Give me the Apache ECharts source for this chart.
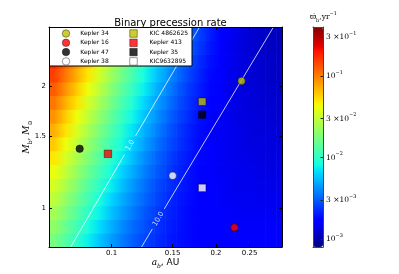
<!DOCTYPE html>
<html><head><meta charset="utf-8">
<script src="https://cdn.jsdelivr.net/npm/echarts@6/dist/echarts.min.js"></script>
<style>html,body{margin:0;padding:0;background:#fff}#c{width:399px;height:274px}</style>
</head><body><div id="c"></div>
<script>
// ---- data ----
// heatmap cell edges (binary semi-major axis a_b in AU, binary mass M_b in Msun)
const aEdges = [0.0660,0.0710,0.0765,0.0823,0.0886,0.0954,0.1027,0.1105,0.1190,0.1281,0.1379,0.1484,0.1598,0.1720,0.1851,0.1993,0.2145,0.2309,0.2486,0.2676,0.2880,0.3100];
const mEdges = [0.800,0.865,0.936,1.012,1.094,1.183,1.280,1.384,1.497,1.619,1.751,1.893,2.047,2.214,2.394,2.589,2.800];
// log10 of precession rate (yr^-1), rows from bottom (low M) to top
const log10Rate = [
[-1.76,-1.88,-2.00,-2.12,-2.23,-2.33,-2.42,-2.50,-2.57,-2.63,-2.68,-2.72,-2.74,-2.77,-2.78,-2.79,-2.80,-2.80,-2.80,-2.80,-2.80],
[-1.68,-1.81,-1.94,-2.06,-2.17,-2.28,-2.38,-2.47,-2.54,-2.61,-2.67,-2.71,-2.74,-2.77,-2.79,-2.80,-2.81,-2.81,-2.81,-2.81,-2.81],
[-1.61,-1.74,-1.87,-2.00,-2.11,-2.23,-2.33,-2.43,-2.52,-2.59,-2.65,-2.70,-2.74,-2.77,-2.79,-2.80,-2.81,-2.82,-2.82,-2.82,-2.82],
[-1.53,-1.67,-1.80,-1.93,-2.06,-2.18,-2.29,-2.39,-2.48,-2.56,-2.63,-2.69,-2.73,-2.77,-2.79,-2.81,-2.82,-2.83,-2.83,-2.84,-2.84],
[-1.46,-1.59,-1.73,-1.87,-1.99,-2.12,-2.24,-2.35,-2.45,-2.54,-2.61,-2.67,-2.72,-2.76,-2.79,-2.81,-2.83,-2.84,-2.84,-2.85,-2.85],
[-1.38,-1.52,-1.66,-1.80,-1.93,-2.06,-2.19,-2.30,-2.41,-2.50,-2.58,-2.66,-2.71,-2.76,-2.79,-2.82,-2.83,-2.84,-2.85,-2.86,-2.86],
[-1.30,-1.45,-1.59,-1.73,-1.87,-2.00,-2.13,-2.25,-2.37,-2.47,-2.56,-2.64,-2.70,-2.75,-2.79,-2.82,-2.84,-2.85,-2.86,-2.87,-2.87],
[-1.22,-1.37,-1.52,-1.66,-1.80,-1.94,-2.07,-2.20,-2.32,-2.43,-2.53,-2.61,-2.68,-2.74,-2.78,-2.82,-2.84,-2.86,-2.87,-2.87,-2.88],
[-1.14,-1.29,-1.44,-1.59,-1.74,-1.88,-2.02,-2.15,-2.28,-2.39,-2.50,-2.59,-2.67,-2.73,-2.78,-2.82,-2.84,-2.86,-2.88,-2.88,-2.89],
[-1.06,-1.22,-1.37,-1.52,-1.67,-1.82,-1.96,-2.10,-2.23,-2.35,-2.46,-2.56,-2.64,-2.72,-2.77,-2.82,-2.85,-2.87,-2.88,-2.89,-2.90],
[-0.98,-1.14,-1.29,-1.45,-1.60,-1.75,-1.90,-2.04,-2.18,-2.31,-2.42,-2.53,-2.62,-2.70,-2.76,-2.81,-2.85,-2.87,-2.89,-2.90,-2.91],
[-0.90,-1.06,-1.22,-1.37,-1.53,-1.69,-1.84,-1.98,-2.12,-2.26,-2.38,-2.50,-2.60,-2.68,-2.75,-2.81,-2.85,-2.87,-2.89,-2.91,-2.92],
[-0.82,-0.98,-1.14,-1.30,-1.46,-1.62,-1.77,-1.92,-2.07,-2.21,-2.34,-2.46,-2.57,-2.66,-2.74,-2.80,-2.84,-2.88,-2.90,-2.92,-2.93],
[-0.74,-0.91,-1.07,-1.23,-1.39,-1.55,-1.71,-1.87,-2.02,-2.16,-2.30,-2.42,-2.54,-2.64,-2.72,-2.79,-2.84,-2.88,-2.90,-2.92,-2.93],
[-0.66,-0.83,-0.99,-1.16,-1.32,-1.49,-1.65,-1.81,-1.96,-2.11,-2.25,-2.38,-2.50,-2.61,-2.70,-2.78,-2.84,-2.88,-2.91,-2.93,-2.94],
[-0.58,-0.75,-0.92,-1.09,-1.26,-1.42,-1.58,-1.74,-1.90,-2.06,-2.20,-2.34,-2.47,-2.58,-2.68,-2.76,-2.83,-2.88,-2.91,-2.94,-2.95]
];
// contour lines (a_b, M_b) with gaps for their labels
const contour1Lower  = [[0.0762,0.800],[0.1089,1.353]];
const contour1Upper  = [[0.1173,1.507],[0.1793,2.800]];
const contour10Lower = [[0.1220,0.800],[0.1311,0.887]];
const contour10Upper = [[0.1419,0.994],[0.2930,2.800]];
const contourLabelPos = [[0.1131,1.428],[0.1364,0.939]];
const contourLevels = ['1.0','10.0'];
// systems
const systemNames = ['Kepler 34','Kepler 16','Kepler 47','Kepler 38','KIC 4862625','Kepler 413','Kepler 35','KIC9632895'];
const systemA = [0.237,0.226,0.0809,0.150,0.1825,0.0976,0.1825,0.1825];
const systemM = [2.06,0.894,1.40,1.20,1.83,1.36,1.70,1.12];
// axes
const xRange = [0.066,0.31];
const yRange = [0.8,2.8];
const cbRange = [8e-4,0.4];
const xTickValues = [0.1,0.15,0.2,0.25];
const xTickLabels = ['0.1','0.15','0.2','0.25'];
const yTickValues = [1,1.5,2];
const yTickLabels = ['1','1.5','2'];
const cbTickValues = [0.001,0.003,0.01,0.03,0.1,0.3];
const cbTickLabels = ['{b|10}{p|−3}','{b|3 ×10}{p|−3}','{b|10}{p|−2}','{b|3 ×10}{p|−2}','{b|10}{p|−1}','{b|3 ×10}{p|−1}'];

// ---- styles ----
const sysColors = ['#bfbf00','#ff0000','#000000','#ffffff','#bfbf00','#ff0000','#000000','#ffffff'];
const sysSymbols = ['circle','circle','circle','circle','rect','rect','rect','rect'];

const L = Math.log10;
function jet(t){
  const cl = v => Math.max(0, Math.min(1, v));
  t = cl(t);
  let r, g, b;
  if (t < 0.35) r = 0; else if (t < 0.66) r = (t-0.35)/0.31; else if (t < 0.89) r = 1; else r = 1 - 0.5*(t-0.89)/0.11;
  if (t < 0.125) g = 0; else if (t < 0.375) g = (t-0.125)/0.25; else if (t < 0.64) g = 1; else if (t < 0.91) g = 1-(t-0.64)/0.27; else g = 0;
  if (t < 0.11) b = 0.5 + 0.5*t/0.11; else if (t < 0.34) b = 1; else if (t < 0.65) b = 1-(t-0.34)/0.31; else b = 0;
  const h = v => Math.round(cl(v)*255);
  return 'rgb(' + h(r) + ',' + h(g) + ',' + h(b) + ')';
}
const jetColors = [];
for (let k = 0; k <= 64; k++) jetColors.push(jet(k/64));
const cbMin = L(cbRange[0]), cbMax = L(cbRange[1]);
const colorOf = v => jet((v - cbMin) / (cbMax - cbMin));

const cells = [];
for (let j = 0; j < log10Rate.length; j++) {
  for (let i = 0; i < log10Rate[j].length; i++) {
    cells.push([(L(aEdges[i])+L(aEdges[i+1]))/2, (L(mEdges[j])+L(mEdges[j+1]))/2, log10Rate[j][i], i, j]);
  }
}
const toLog = arr => arr.map(p => [L(p[0]), L(p[1])]);
function fmt(values, labels){
  return function(v){
    for (let k = 0; k < values.length; k++) if (Math.abs(L(values[k]) - v) < 1e-6) return labels[k];
    return '';
  };
}
const sans = 'DejaVu Sans', serif = 'DejaVu Serif';

const series = [];
series.push({
  type: 'custom', xAxisIndex: 0, yAxisIndex: 0, clip: true, z: 1, silent: true,
  data: cells,
  renderItem: function(params, api){
    const i = api.value(3), j = api.value(4);
    const row = log10Rate[j], n = row.length;
    const cx = k => (L(aEdges[k]) + L(aEdges[k+1])) / 2;
    const yTop = api.coord([cx(i), L(mEdges[j+1])])[1] - 0.4;
    const yBot = api.coord([cx(i), L(mEdges[j])])[1] + 0.4;
    const px = v => api.coord([v, L(mEdges[j])])[0];
    const kids = [];
    const c0 = colorOf(row[i]);
    if (i === 0) {
      const x0 = px(L(aEdges[0])), x1 = px(cx(0));
      kids.push({type: 'rect', shape: {x: x0, y: yTop, width: x1 - x0 + 0.5, height: yBot - yTop}, style: {fill: c0}});
    }
    if (i < n - 1) {
      const x0 = px(cx(i)), x1 = px(cx(i+1));
      kids.push({type: 'rect', shape: {x: x0 - 0.3, y: yTop, width: x1 - x0 + 0.6, height: yBot - yTop},
        style: {fill: {type: 'linear', x: 0, y: 0, x2: 1, y2: 0,
          colorStops: [{offset: 0, color: c0}, {offset: 1, color: colorOf(row[i+1])}]}}});
    } else {
      const x0 = px(cx(i)), x1 = px(L(aEdges[n]));
      kids.push({type: 'rect', shape: {x: x0 - 0.3, y: yTop, width: x1 - x0 + 0.3, height: yBot - yTop}, style: {fill: c0}});
    }
    return {type: 'group', children: kids};
  }
});
[contour1Lower, contour1Upper, contour10Lower, contour10Upper].forEach(seg => {
  series.push({type: 'line', xAxisIndex: 0, yAxisIndex: 0, data: toLog(seg), symbol: 'none', silent: true, z: 3,
    lineStyle: {color: '#ffffff', width: 0.9, opacity: 0.85}});
});
series.push({type: 'scatter', xAxisIndex: 0, yAxisIndex: 0, silent: true, z: 3, symbolSize: 1,
  itemStyle: {color: 'transparent'},
  data: contourLabelPos.map((p, k) => ({value: [L(p[0]), L(p[1]), contourLevels[k]], label: {rotate: k === 0 ? 60 : 59}})),
  label: {show: true, position: 'inside', formatter: p => p.data.value[2], color: '#ffffff', fontSize: 7, fontFamily: sans}
});
systemNames.forEach((n, k) => {
  series.push({type: 'scatter', name: n, xAxisIndex: 0, yAxisIndex: 0, z: 4,
    symbol: sysSymbols[k], symbolSize: 7.5,
    itemStyle: {color: sysColors[k], borderColor: '#000', borderWidth: 0.5},
    data: [[L(systemA[k]), L(systemM[k])]]});
});

const frameAxis = {z: 10, splitLine: {show: false}, nameMoveOverlap: false,
  axisLine: {show: true, onZero: false, lineStyle: {color: '#000', width: 1}}};
const legendItem = k => ({name: systemNames[k], icon: sysSymbols[k],
  itemStyle: {color: sysColors[k], borderColor: '#000', borderWidth: 0.5}});

const option = {
  animation: false,
  backgroundColor: '#fff',
  title: [
    {text: 'Binary precession rate', left: 165.5, top: 13, textAlign: 'center',
     textStyle: {fontFamily: sans, fontSize: 10, fontWeight: 'normal', color: '#000'}},
    {text: '{v|ϖ̇}{s|b}{v|,yr}{p|−1}', left: 310, top: 11, padding: 0,
     textStyle: {fontWeight: 'normal', rich: {
       v: {fontFamily: serif, fontSize: 7.5, lineHeight: 12, fontWeight: 'normal', color: '#000'},
       s: {fontFamily: serif, fontSize: 5, verticalAlign: 'bottom', fontWeight: 'normal', color: '#000'},
       p: {fontFamily: serif, fontSize: 5, verticalAlign: 'top', fontWeight: 'normal', color: '#000'}}}}
  ],
  grid: [
    {left: 49, top: 27, width: 233, height: 220},
    {left: 313, top: 27, width: 10, height: 220}
  ],
  xAxis: [
    Object.assign({}, frameAxis, {gridIndex: 0, type: 'value', position: 'bottom', min: L(xRange[0]), max: L(xRange[1]),
      axisTick: {show: true, inside: true, length: 3, customValues: xTickValues.map(L), lineStyle: {color: '#000'}},
      axisLabel: {customValues: xTickValues.map(L), formatter: fmt(xTickValues, xTickLabels), fontSize: 7, fontFamily: sans, color: '#000', margin: 3},
      name: '{i|a}{s|b}{n|, AU}', nameLocation: 'middle', nameGap: 10,
      nameTextStyle: {rich: {
        i: {fontFamily: serif, fontStyle: 'italic', fontSize: 9, lineHeight: 12, color: '#000'},
        s: {fontFamily: serif, fontStyle: 'italic', fontSize: 6, verticalAlign: 'bottom', color: '#000'},
        n: {fontFamily: sans, fontSize: 9, lineHeight: 12, color: '#000'}}}}),
    Object.assign({}, frameAxis, {gridIndex: 0, type: 'value', position: 'top', min: L(xRange[0]), max: L(xRange[1]),
      axisTick: {show: true, inside: true, length: 3, customValues: xTickValues.map(L), lineStyle: {color: '#000'}},
      axisLabel: {show: false}}),
    Object.assign({}, frameAxis, {gridIndex: 1, type: 'value', position: 'bottom', min: 0, max: 1,
      axisLine: {show: true, onZero: false, lineStyle: {color: '#444', width: 1}}, axisTick: {show: false}, axisLabel: {show: false}}),
    Object.assign({}, frameAxis, {gridIndex: 1, type: 'value', position: 'top', min: 0, max: 1,
      axisLine: {show: true, onZero: false, lineStyle: {color: '#444', width: 1}}, axisTick: {show: false}, axisLabel: {show: false}})
  ],
  yAxis: [
    Object.assign({}, frameAxis, {gridIndex: 0, type: 'value', position: 'left', min: L(yRange[0]), max: L(yRange[1]),
      axisTick: {show: true, inside: true, length: 3, customValues: yTickValues.map(L), lineStyle: {color: '#000'}},
      axisLabel: {customValues: yTickValues.map(L), formatter: fmt(yTickValues, yTickLabels), fontSize: 7, fontFamily: sans, color: '#000', margin: 3},
      name: '{i|M}{s|b}{n|, }{i|M}{s|⊙}', nameLocation: 'middle', nameGap: 16, nameRotate: 90,
      nameTextStyle: {rich: {
        i: {fontFamily: serif, fontStyle: 'italic', fontSize: 9, lineHeight: 12, color: '#000'},
        s: {fontFamily: serif, fontSize: 6, verticalAlign: 'bottom', color: '#000'},
        n: {fontFamily: serif, fontSize: 9, lineHeight: 12, color: '#000'}}}}),
    Object.assign({}, frameAxis, {gridIndex: 0, type: 'value', position: 'right', min: L(yRange[0]), max: L(yRange[1]),
      axisTick: {show: true, inside: true, length: 3, customValues: yTickValues.map(L), lineStyle: {color: '#000'}},
      axisLabel: {show: false}}),
    Object.assign({}, frameAxis, {gridIndex: 1, type: 'value', position: 'right', min: cbMin, max: cbMax,
      axisLine: {show: true, onZero: false, lineStyle: {color: '#444', width: 1}},
      axisTick: {show: true, inside: true, length: 2.5, customValues: cbTickValues.map(L), lineStyle: {color: '#222'}},
      axisLabel: {customValues: cbTickValues.map(L), formatter: fmt(cbTickValues, cbTickLabels), margin: 3,
        rich: {
          b: {fontFamily: serif, fontSize: 7.5, lineHeight: 12, color: '#000'},
          p: {fontFamily: serif, fontSize: 5, verticalAlign: 'top', color: '#000'}}}}),
    Object.assign({}, frameAxis, {gridIndex: 1, type: 'value', position: 'left', min: cbMin, max: cbMax,
      axisLine: {show: true, onZero: false, lineStyle: {color: '#444', width: 1}}, axisTick: {show: false}, axisLabel: {show: false}})
  ],
  visualMap: {
    type: 'continuous', seriesIndex: 0, dimension: 2, min: cbMin, max: cbMax,
    inRange: {color: jetColors}, left: 313, top: 27, itemWidth: 10, itemHeight: 220,
    calculable: false, padding: 0, text: null, hoverLink: false, z: 4
  },
  legend: [
    {orient: 'vertical', left: 62, top: 29.5, padding: 0, itemWidth: 7.5, itemHeight: 7.5, itemGap: 1.3, z: 20,
     data: [0,1,2,3].map(legendItem), selectedMode: false,
     textStyle: {fontFamily: sans, fontSize: 6, lineHeight: 7.5, color: '#000', padding: [0,0,0,5.5]}},
    {orient: 'vertical', left: 129.5, top: 29.5, padding: 0, itemWidth: 7.5, itemHeight: 7.5, itemGap: 1.3, z: 20,
     data: [4,5,6,7].map(legendItem), selectedMode: false,
     textStyle: {fontFamily: sans, fontSize: 6, lineHeight: 7.5, color: '#000', padding: [0,0,0,7.3]}}
  ],
  graphic: [
    {type: 'rect', z: 15, shape: {x: 49.5, y: 27.5, width: 142.5, height: 38.5},
     style: {fill: '#ffffff', stroke: '#000000', lineWidth: 1}}
  ],
  series: series
};
const chart = echarts.init(document.getElementById('c'), null, {renderer: 'canvas'});
chart.setOption(option);
</script></body></html>
